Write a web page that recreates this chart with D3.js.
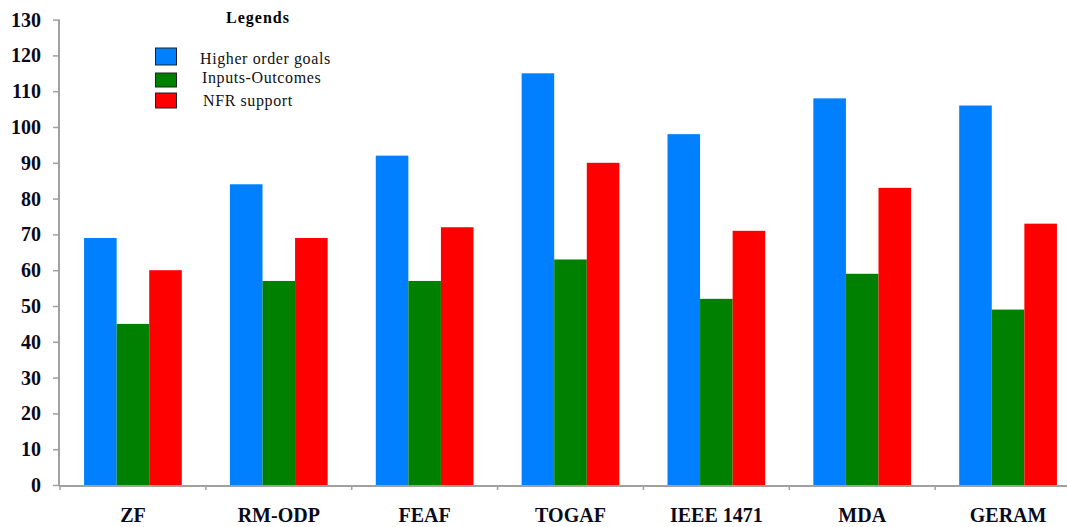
<!DOCTYPE html>
<html><head><meta charset="utf-8">
<script src="https://cdn.jsdelivr.net/npm/d3@7"></script>
<style>body{margin:0;background:#fff;overflow:hidden}svg{display:block}</style>
</head><body>
<svg id="c" width="1067" height="527"></svg>
<script>
const categories = ["ZF","RM-ODP","FEAF","TOGAF","IEEE 1471","MDA","GERAM"];
const seriesNames = ["Higher order goals","Inputs-Outcomes","NFR support"];
const higherOrderGoals = [69,84,92,115,98,108,106];
const inputsOutcomes = [45,57,57,63,52,59,49];
const nfrSupport = [60,69,72,90,71,83,73];
const yTicks = [0,10,20,30,40,50,60,70,80,90,100,110,120,130];
const colors = ["#0080FF","#008000","#FF0000"];

const FONT = "Liberation Serif";
const seriesValues = [higherOrderGoals, inputsOutcomes, nfrSupport];
const svg = d3.select("#c");
const x0 = d3.scaleBand().domain(categories).range([60,1081]).paddingInner(0.33).paddingOuter(0.165);
const x1 = d3.scaleBand().domain(seriesNames).range([0,x0.bandwidth()]);
const y = d3.scaleLinear().domain([0,130]).range([485,19.6]);

// bars
const g = svg.append("g");
categories.forEach((c,i)=>{
  seriesNames.forEach((s,j)=>{
    g.append("rect")
      .attr("x", x0(c)+x1(s))
      .attr("y", y(seriesValues[j][i]))
      .attr("width", x1.bandwidth())
      .attr("height", y(0)-y(seriesValues[j][i]))
      .attr("fill", colors[j]);
  });
});

// y axis
const ya = svg.append("g").attr("transform","translate(59,0)")
  .call(d3.axisLeft(y).tickValues(yTicks).tickSize(6).tickPadding(12));
ya.select(".domain").attr("stroke","#a0a0a0").attr("stroke-width",2).attr("d","M0,19.6V486");
ya.selectAll(".tick line").attr("stroke","#a0a0a0").attr("stroke-width",1.5);
ya.selectAll("text").style("font-family",FONT).style("font-weight","bold").style("font-size","20px").attr("fill","#0a0a1e");

// x axis
const xa = svg.append("g").attr("transform","translate(0,486)");
xa.append("line").attr("x1",59).attr("x2",1081).attr("stroke","#a0a0a0").attr("stroke-width",2);
const step = x0.step();
d3.range(categories.length+1).forEach(k=>{
  const xx = x0(categories[0]) - x0.paddingOuter()*step + k*step;
  xa.append("line").attr("x1",xx).attr("x2",xx).attr("y1",0).attr("y2",4).attr("stroke","#a0a0a0").attr("stroke-width",1.5);
});
xa.selectAll("text.cat").data(categories).enter().append("text")
  .attr("x", d=>x0(d)+x0.bandwidth()/2).attr("y",36)
  .attr("text-anchor","middle").style("font-family",FONT).style("font-weight","bold").style("font-size","20px").attr("fill","#0a0a1e")
  .text(d=>d);

// legend
svg.append("text").attr("x",258).attr("y",23).attr("text-anchor","middle")
  .style("font-family",FONT).style("font-weight","bold").style("font-size","16px").style("letter-spacing","1px").text("Legends");
const legY = [48,73,93];
const legH = [17,14,15];
const legTX = [200,202,203];
const legTY = [64,83,106];
seriesNames.forEach((s,j)=>{
  svg.append("rect").attr("x",155.5).attr("y",legY[j]).attr("width",21).attr("height",legH[j])
    .attr("fill",colors[j]).attr("stroke","#222").attr("stroke-width",1);
  svg.append("text").attr("x",legTX[j]).attr("y",legTY[j]).style("font-family",FONT)
    .style("font-size","16px").style("letter-spacing","0.6px").attr("fill","#111").text(s);
});
</script>
</body></html>
